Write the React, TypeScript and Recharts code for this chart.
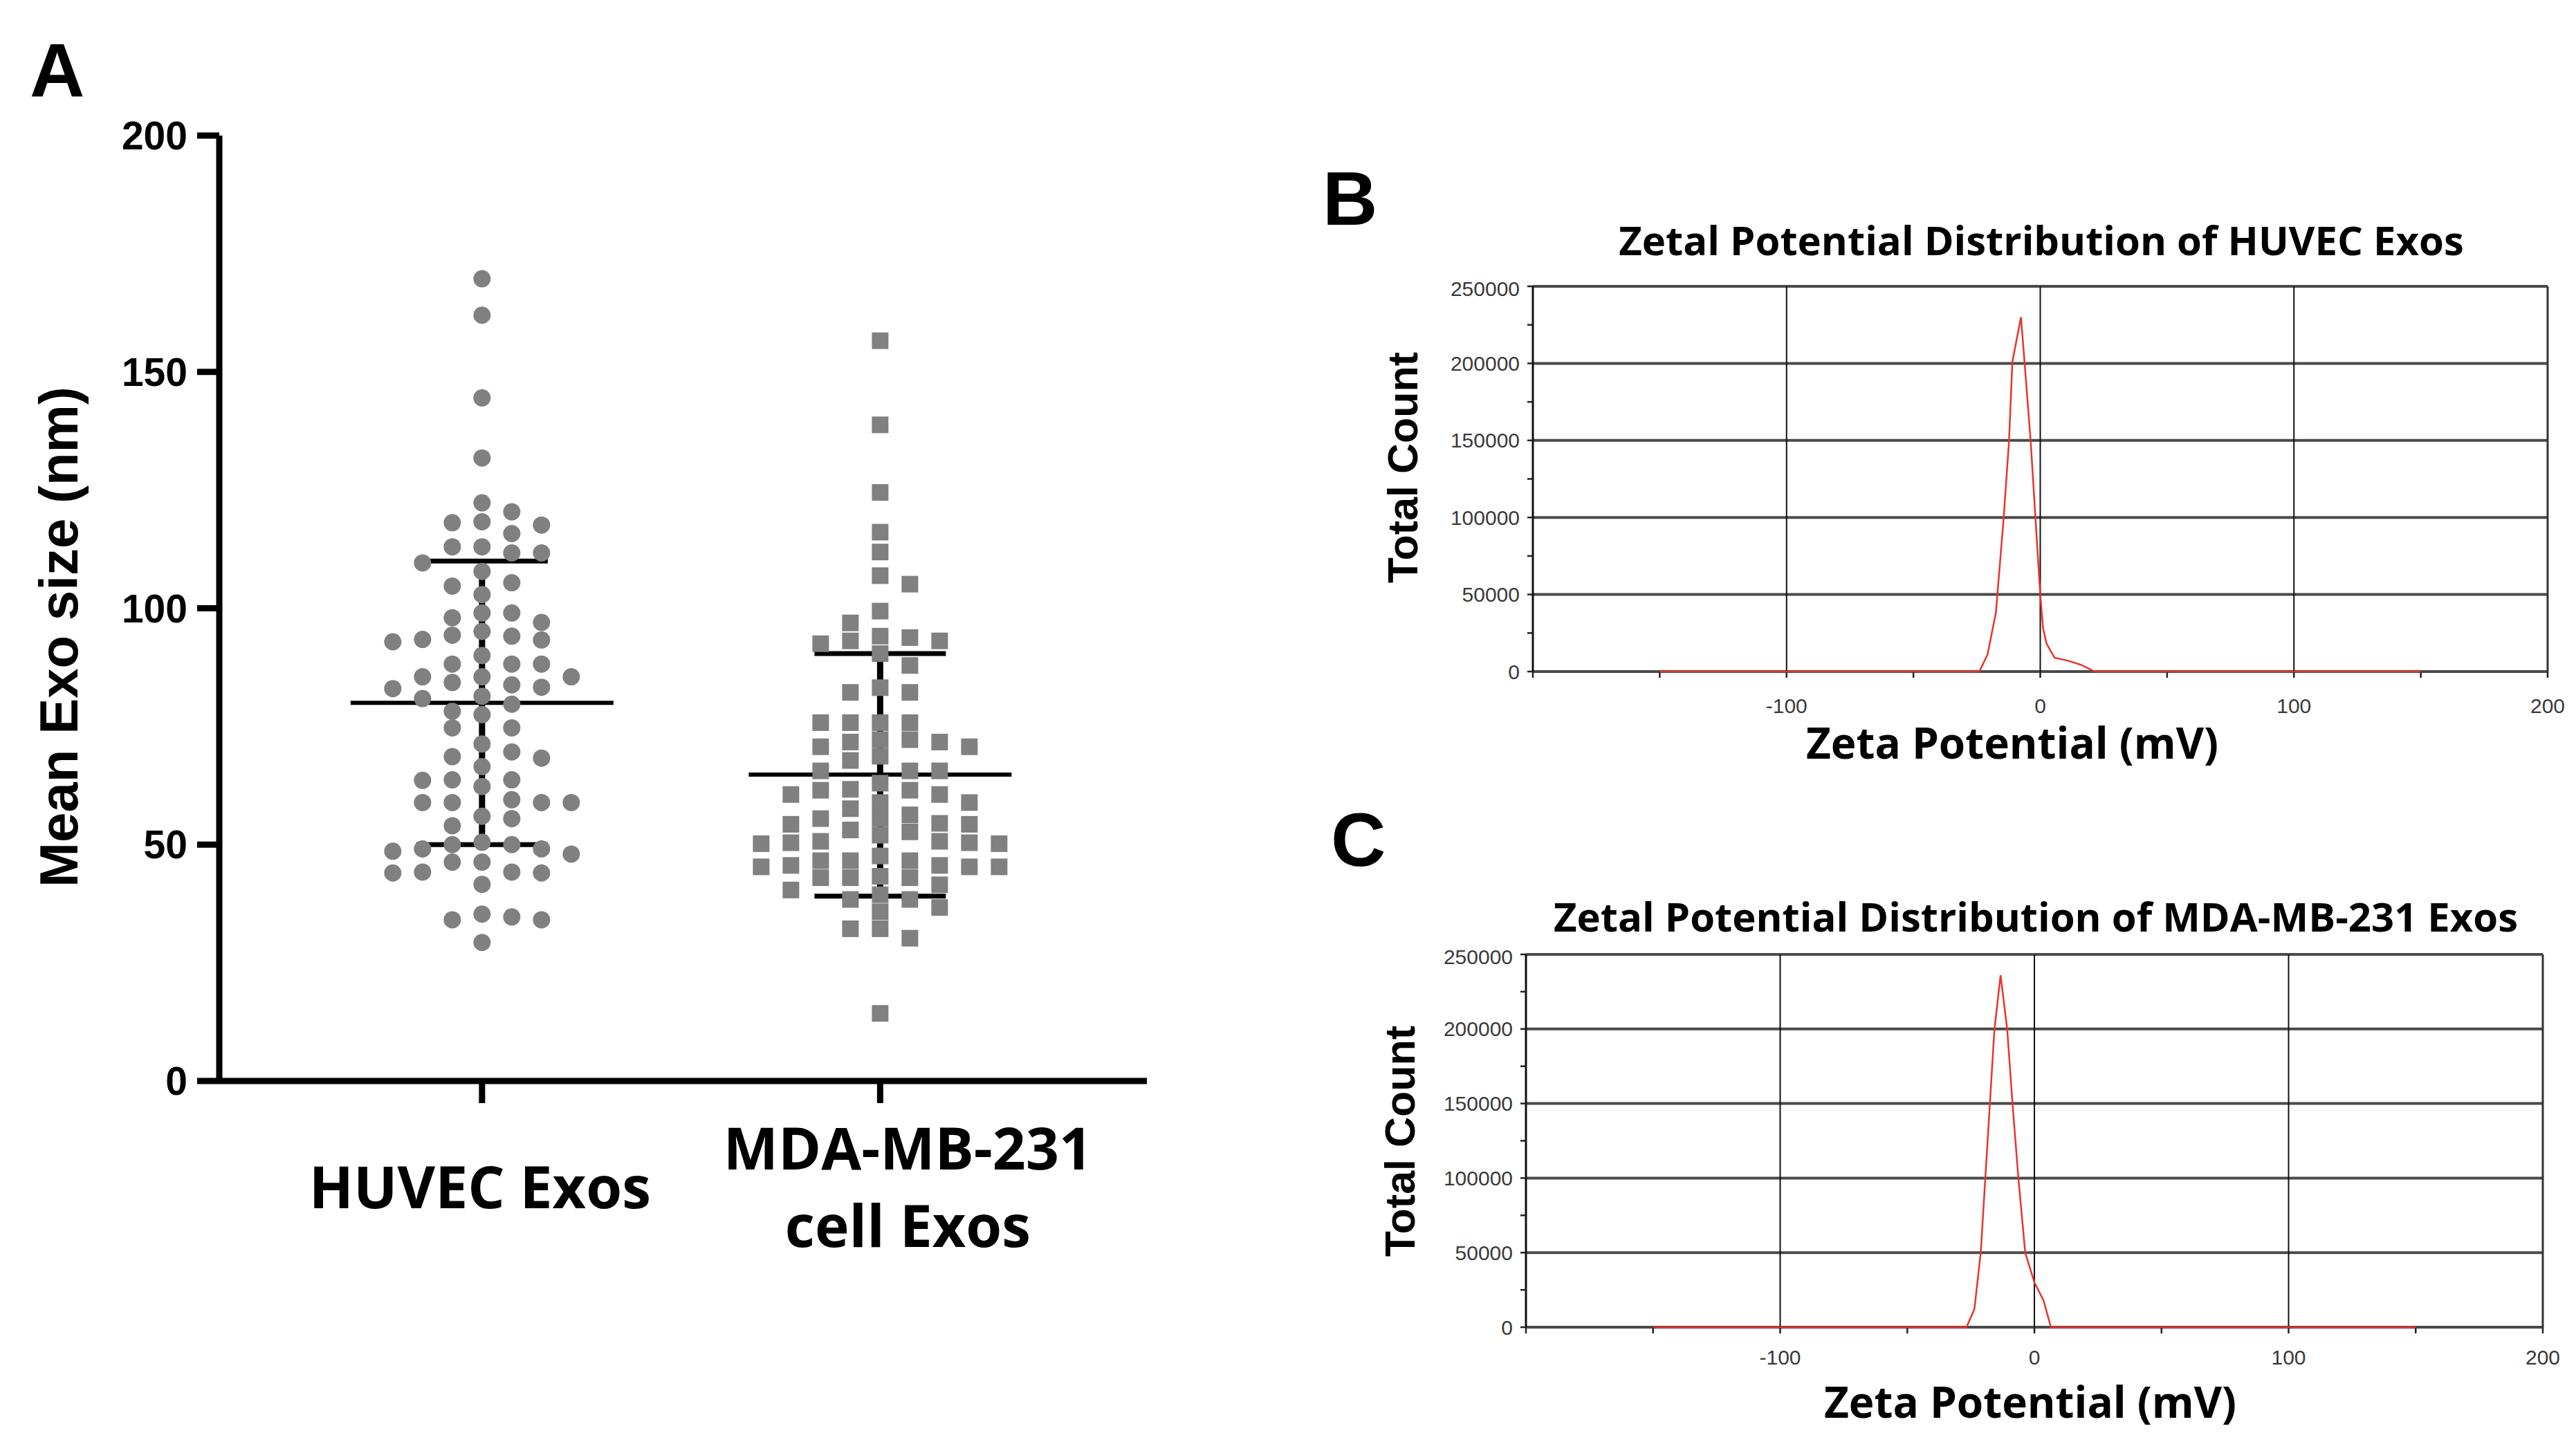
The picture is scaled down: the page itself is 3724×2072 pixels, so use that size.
import React from 'react'
import {
  ScatterChart, Scatter, LineChart, Line, XAxis, YAxis, ReferenceLine,
} from 'recharts'

// Panel A: mean exosome size (nm), one value per particle measurement
const groupLabelLines = [['HUVEC Exos'], ['MDA-MB-231', 'cell Exos']]
const groupIndex = [1, 2]
const huvecSizes = [
  169.7, 162.0, 144.5, 131.8, 122.3, 120.4, 118.1, 115.8, 117.6, 118.3,
  111.7, 113.0, 111.7, 113.0, 109.6, 107.8, 105.4, 104.7, 102.9, 99.0,
  99.0, 97.0, 98.0, 95.1, 92.9, 94.3, 93.3, 93.4, 94.1, 90.0,
  88.2, 88.2, 88.2, 85.5, 85.5, 85.5, 83.3, 83.0, 84.3, 83.8,
  81.4, 79.7, 80.9, 78.2, 77.5, 74.7, 74.7, 69.6, 71.3, 68.3,
  68.6, 66.5, 63.7, 62.3, 63.6, 63.7, 58.9, 59.5, 58.9, 58.9,
  58.9, 55.5, 56.0, 54.0, 50.0, 50.0, 50.5, 49.1, 48.6, 49.1,
  48.0, 46.3, 46.3, 44.2, 44.2, 44.0, 44.0, 41.6, 34.1, 35.3,
  34.1, 34.7, 29.3,
]
const mdaSizes = [
  156.6, 138.8, 124.5, 116.1, 111.9, 106.9, 105.1, 99.4, 96.9, 93.1,
  93.8, 94.1, 92.5, 93.1, 90.4, 87.9, 83.2, 82.2, 82.2, 75.8,
  75.8, 75.8, 75.8, 70.7, 70.7, 72.2, 72.2, 71.7, 68.7, 71.7,
  67.8, 65.6, 65.6, 65.6, 63.0, 61.7, 60.6, 60.6, 61.5, 61.5,
  58.9, 57.6, 58.9, 56.3, 55.5, 54.3, 52.7, 53.1, 54.3, 50.2,
  54.5, 50.7, 55.5, 52.0, 50.2, 50.4, 50.7, 50.4, 47.6, 46.6,
  46.6, 46.6, 45.3, 45.3, 45.3, 45.6, 45.6, 43.0, 43.0, 43.3,
  43.0, 41.5, 40.4, 39.4, 38.4, 38.4, 35.8, 36.7, 32.2, 32.2,
  30.2, 14.3,
]
const groupMean = [80, 64.8]
const groupSdLow = [50, 39.1]
const groupSdHigh = [110, 90.4]
const sizeTicks = [0, 50, 100, 150, 200]

// Panels B and C: zeta potential distributions
const huvecZeta = [-150, -24, -20.8, -17.5, -14.4, -12.3, -11, -7.6, -6.2, -3.8, -1.9, 0, 1.1, 2.5, 5.6, 11, 16, 21.5, 150]
const huvecCount = [0, 0, 11000, 38000, 100000, 150000, 201000, 230000, 201000, 150000, 100000, 50000, 28000, 18000, 9000, 7000, 4400, 0, 0]
const mdaZeta = [-150, -26.7, -23.6, -21.1, -19.3, -17.5, -15.7, -13.3, -10.7, -8.6, -6.3, -3.6, 0, 3.6, 6.5, 150]
const mdaCount = [0, 0, 12000, 50000, 100000, 150000, 200000, 236000, 200000, 150000, 100000, 50000, 30000, 18000, 0, 0]
const zetaTicks = [-200, -150, -100, -50, 0, 50, 100, 150, 200]
const zetaLabelled = [-100, 0, 100, 200]
const zetaGrid = [-100, 0, 100]
const countTicks = [0, 25000, 50000, 75000, 100000, 125000, 150000, 175000, 200000, 225000, 250000]
const countGrid = [50000, 100000, 150000, 200000, 250000]

const ARIAL = '"Liberation Sans", Arial, sans-serif'
const CALI = '"Open Sans", "Noto Sans", sans-serif'
const DOT = '#808080'
const RED = '#e8342f'

// panel A geometry
const A_W = 1720
const A_H = 1900
const A_MARGIN = { top: 196, right: 62, bottom: 37, left: 0 }
const A_YAXIS_W = 317
const A_XAXIS_H = 300
const X_DOMAIN: [number, number] = [0.34, 2.67]
const pxPerX = (A_W - A_MARGIN.left - A_YAXIS_W - A_MARGIN.right) / (X_DOMAIN[1] - X_DOMAIN[0])
const pxPerNm = (A_H - A_MARGIN.top - A_MARGIN.bottom - A_XAXIS_H) / 200

// column scatter: stack points that would overlap into side columns
function swarmColumns(values: number[], gap: number) {
  const cols = values.map(() => 0)
  const placed: { v: number; c: number }[] = []
  const order = values.map((_, i) => i).sort((a, b) => values[b] - values[a])
  let side = 1
  for (const i of order) {
    for (let k = 0; k < 60; k++) {
      const c = k === 0 ? 0 : Math.ceil(k / 2) * (k % 2 === 1 ? side : -side)
      if (placed.every(p => p.c !== c || Math.abs(p.v - values[i]) >= gap)) {
        cols[i] = c
        placed.push({ v: values[i], c })
        if (c !== 0) side = -side
        break
      }
    }
  }
  return cols
}

function columnPoints(values: number[], group: number, dotPx: number) {
  const cols = swarmColumns(values, (dotPx * 0.95) / pxPerNm)
  const maxCol = Math.max(1, ...cols.map(Math.abs))
  const step = Math.min(43, 178 / maxCol)
  return values.map((v, i) => ({ x: group + (cols[i] * step) / pxPerX, y: v }))
}

const huvecPts = columnPoints(huvecSizes, groupIndex[0], 25)
const mdaPts = columnPoints(mdaSizes, groupIndex[1], 24)

const huvecRows = huvecZeta.map((z, i) => ({ zeta: z, count: huvecCount[i] }))
const mdaRows = mdaZeta.map((z, i) => ({ zeta: z, count: mdaCount[i] }))

const MEAN_HALF = 190 / pxPerX
const CAP_HALF = 95 / pxPerX

const Circle = (p: any) => <circle cx={p.cx} cy={p.cy} r={12.5} fill={DOT} />
const Square = (p: any) => <rect x={p.cx - 12} y={p.cy - 12} width={24} height={24} fill={DOT} />

const GroupTick = (p: any) => {
  const lines = groupLabelLines[groupIndex.indexOf(p.payload.value)] ?? []
  const dx = lines.length > 1 ? 40 : -3
  return (
    <g>
      {lines.map((t, k) => (
        <text
          key={t}
          x={p.x + dx}
          y={p.y + 150 + (k - (lines.length - 1) / 2) * 112}
          textAnchor="middle"
          fontFamily={CALI}
          fontWeight={700}
          fontSize={84}
          style={{ fontStretch: '93%' }}
          fill="#000"
        >
          {t}
        </text>
      ))}
    </g>
  )
}

function ZetaChart({ rows, left, top, width, height, margin, yWidth, xMargin }: any) {
  return (
    <div style={{ position: 'absolute', left, top }}>
      <LineChart width={width} height={height} data={rows} margin={margin}>
        <XAxis
          type="number"
          dataKey="zeta"
          domain={[-200, 200]}
          ticks={zetaTicks}
          tickFormatter={(v: number) => (zetaLabelled.includes(v) ? String(v) : '')}
          height={60}
          tickSize={9}
          tickMargin={xMargin}
          axisLine={false}
          tickLine={{ stroke: '#222', strokeWidth: 2.5 }}
          tick={{ fontSize: 30, fill: '#3a3a3a', fontFamily: ARIAL }}
        />
        <YAxis
          type="number"
          domain={[0, 250000]}
          ticks={countTicks}
          tickFormatter={(v: number) => (v % 50000 === 0 ? String(v) : '')}
          width={yWidth}
          tickSize={8}
          tickMargin={11}
          axisLine={{ stroke: '#111', strokeWidth: 3 }}
          tickLine={{ stroke: '#222', strokeWidth: 2.5 }}
          tick={{ fontSize: 30, fill: '#3a3a3a', fontFamily: ARIAL }}
        />
        <ReferenceLine y={0} stroke="#4a4a4a" strokeWidth={4} />
        {countGrid.map(v => (
          <ReferenceLine key={'h' + v} y={v} stroke="#4a4a4a" strokeWidth={4} />
        ))}
        {zetaGrid.map(v => (
          <ReferenceLine key={'v' + v} x={v} stroke="#111" strokeWidth={2} />
        ))}
        <ReferenceLine x={200} stroke="#333" strokeWidth={3} />
        <Line
          type="linear"
          dataKey="count"
          stroke={RED}
          strokeWidth={2.5}
          dot={false}
          isAnimationActive={false}
          zIndex={1000}
        />
      </LineChart>
    </div>
  )
}

export default function App() {
  return (
    <div style={{ position: 'absolute', left: 0, top: 0, width: 3724, height: 2072, background: '#fff', overflow: 'hidden' }}>
      <div style={{ position: 'absolute', left: 0, top: 0 }}>
        <ScatterChart width={A_W} height={A_H} margin={A_MARGIN}>
          <XAxis
            type="number"
            dataKey="x"
            domain={X_DOMAIN}
            ticks={groupIndex}
            height={A_XAXIS_H}
            tickSize={32}
            tickMargin={2}
            axisLine={{ stroke: '#000', strokeWidth: 9 }}
            tickLine={{ stroke: '#000', strokeWidth: 9 }}
            tick={GroupTick}
          />
          <YAxis
            type="number"
            dataKey="y"
            domain={[0, 200]}
            ticks={sizeTicks}
            width={A_YAXIS_W}
            tickSize={32}
            tickMargin={14}
            axisLine={{ stroke: '#000', strokeWidth: 9 }}
            tickLine={{ stroke: '#000', strokeWidth: 9 }}
            tick={{ fontSize: 57, fontWeight: 700, fill: '#000', fontFamily: ARIAL }}
          />
          {groupIndex.map((g, i) => (
            <ReferenceLine key={'m' + g} segment={[{ x: g - MEAN_HALF, y: groupMean[i] }, { x: g + MEAN_HALF, y: groupMean[i] }]} stroke="#000" strokeWidth={6} />
          ))}
          {groupIndex.map((g, i) => (
            <ReferenceLine key={'s' + g} segment={[{ x: g, y: groupSdLow[i] }, { x: g, y: groupSdHigh[i] }]} stroke="#000" strokeWidth={9} />
          ))}
          {groupIndex.map((g, i) => (
            <ReferenceLine key={'u' + g} segment={[{ x: g - CAP_HALF, y: groupSdHigh[i] }, { x: g + CAP_HALF, y: groupSdHigh[i] }]} stroke="#000" strokeWidth={7} />
          ))}
          {groupIndex.map((g, i) => (
            <ReferenceLine key={'l' + g} segment={[{ x: g - CAP_HALF, y: groupSdLow[i] }, { x: g + CAP_HALF, y: groupSdLow[i] }]} stroke="#000" strokeWidth={7} />
          ))}
          <Scatter data={huvecPts} shape={Circle} isAnimationActive={false} />
          <Scatter data={mdaPts} shape={Square} isAnimationActive={false} />
        </ScatterChart>
      </div>

      <ZetaChart
        rows={huvecRows}
        left={1960}
        top={400}
        width={1760}
        height={700}
        margin={{ top: 14, right: 37, bottom: 69, left: 0 }}
        yWidth={256}
        xMargin={30}
      />
      <ZetaChart
        rows={mdaRows}
        left={1960}
        top={1366}
        width={1740}
        height={700}
        margin={{ top: 14, right: 24, bottom: 87, left: 0 }}
        yWidth={246}
        xMargin={24}
      />

      <svg width={3724} height={2072} style={{ position: 'absolute', left: 0, top: 0, pointerEvents: 'none' }}>
        <g fontFamily={ARIAL} fontWeight={700} fill="#000">
          <text x={43} y={139} fontSize={110}>A</text>
          <text x={1912} y={325} fontSize={110}>B</text>
          <text x={1924} y={1252} fontSize={110}>C</text>
          <text transform="translate(112 921) rotate(-90)" textAnchor="middle" fontSize={78}>Mean Exo size (nm)</text>
          <text transform="translate(2049 676) rotate(-90)" textAnchor="middle" fontSize={61}>Total Count</text>
          <text transform="translate(2045 1650) rotate(-90)" textAnchor="middle" fontSize={61}>Total Count</text>
        </g>
        <g fontFamily={CALI} fontWeight={700} fill="#000" textAnchor="middle">
          <text x={2951} y={369} fontSize={58}>Zetal Potential Distribution of HUVEC Exos</text>
          <text x={2943} y={1347} fontSize={58}>Zetal Potential Distribution of MDA-MB-231 Exos</text>
          <text x={2909} y={1097} fontSize={62} style={{ fontStretch: '94%' }}>Zeta Potential (mV)</text>
          <text x={2935} y={2050} fontSize={62} style={{ fontStretch: '94%' }}>Zeta Potential (mV)</text>
        </g>
      </svg>
    </div>
  )
}
